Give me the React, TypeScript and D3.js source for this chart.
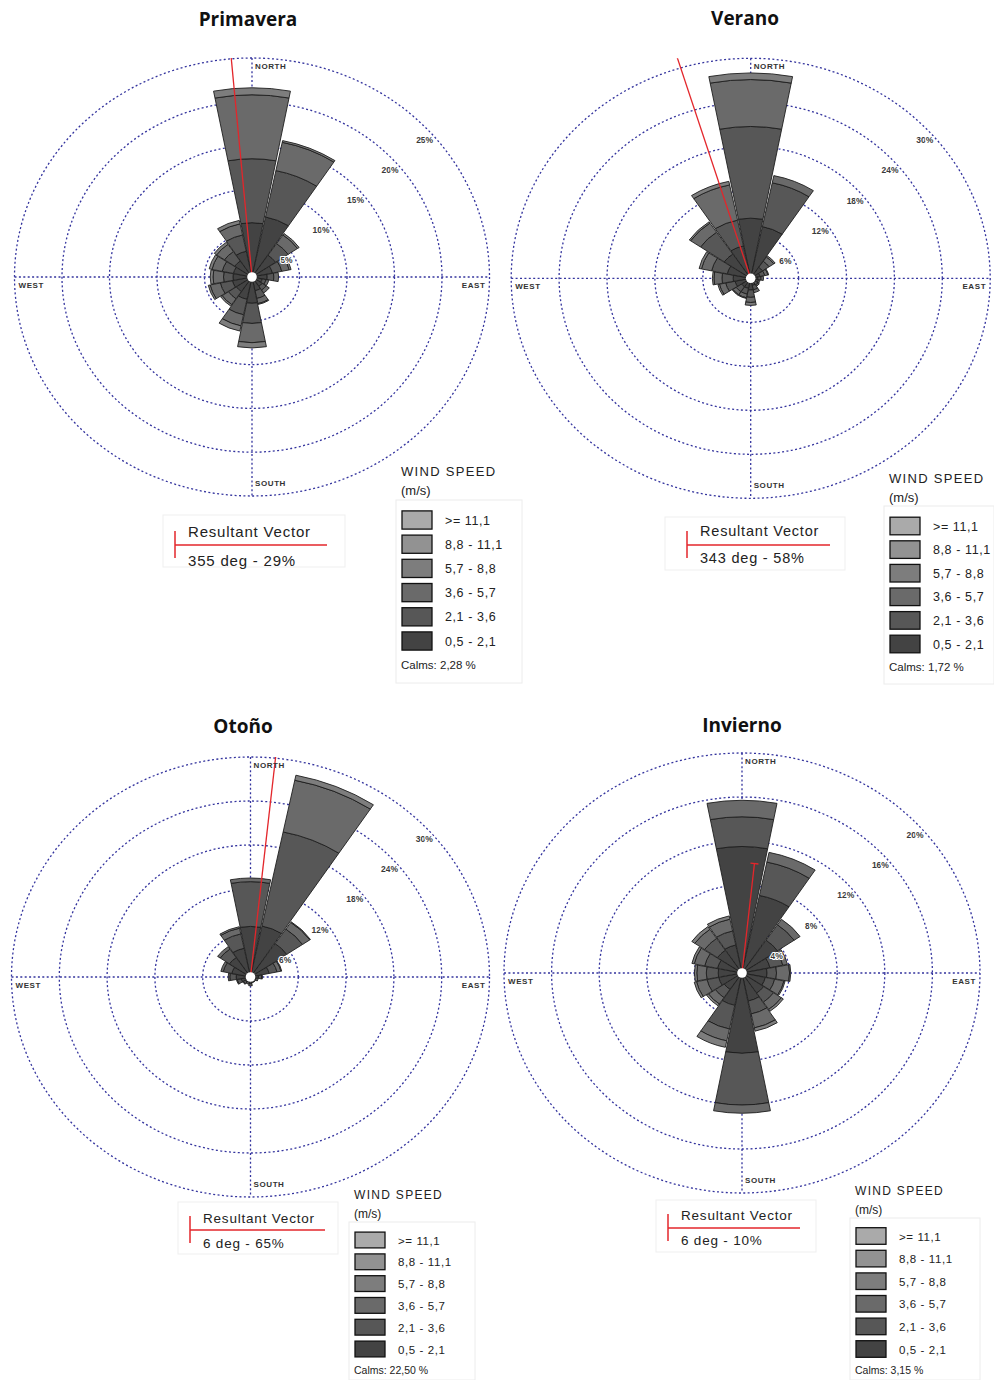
import React from 'react';
import * as d3 from 'd3';

// ---------- DATA ----------
const directions = ['N', 'NNE', 'NE', 'ENE', 'E', 'ESE', 'SE', 'SSE', 'S', 'SSW', 'SW', 'WSW', 'W', 'WNW', 'NW', 'NNW'];
// speed classes, inner (0.5-2.1) to outer (>=11.1)
const speedClasses = ['0,5 - 2,1', '2,1 - 3,6', '3,6 - 5,7', '5,7 - 8,8', '8,8 - 11,1', '>= 11,1'];
const classColors = ['#434343', '#575757', '#6a6a6a', '#7d7d7d', '#929292', '#aaaaaa'];

// frequency (%) per direction, per speed class [0.5-2.1, 2.1-3.6, 3.6-5.7, 5.7-8.8, 8.8-11.1, >=11.1]
const primavera = [
  [6.2, 7.3, 7.3, 0.8, 0, 0],
  [7.0, 5.4, 3.3, 0.2, 0, 0],
  [3.0, 1.6, 1.2, 0.2, 0, 0],
  [2.2, 1.0, 0.8, 0.2, 0, 0],
  [1.6, 0.7, 0.5, 0, 0, 0],
  [1.1, 0.4, 0.3, 0, 0, 0],
  [1.3, 0.5, 0.4, 0, 0, 0],
  [1.6, 0.9, 0.6, 0.1, 0, 0],
  [3.0, 2.3, 2.2, 0.6, 0, 0],
  [2.6, 1.8, 1.3, 0.6, 0, 0],
  [2.0, 1.0, 0.8, 0.2, 0, 0],
  [2.1, 1.3, 1.1, 0.2, 0, 0],
  [2.0, 1.0, 1.1, 0.3, 0, 0],
  [2.0, 1.2, 1.1, 0.3, 0, 0],
  [2.2, 1.3, 1.0, 0.3, 0, 0],
  [3.0, 1.9, 1.3, 0.4, 0, 0],
];
const verano = [
  [8.2, 12.5, 6.4, 0.9, 0, 0],
  [7.2, 6.1, 1.0, 0, 0, 0],
  [1.8, 1.0, 0.7, 0.2, 0, 0],
  [1.2, 0.6, 0.4, 0.1, 0, 0],
  [0.9, 0.4, 0.3, 0, 0, 0],
  [0.7, 0.3, 0.2, 0, 0, 0],
  [0.7, 0.4, 0.2, 0, 0, 0],
  [1.0, 0.6, 0.4, 0, 0, 0],
  [1.6, 1.0, 0.7, 0.4, 0, 0],
  [1.4, 0.8, 0.5, 0.1, 0, 0],
  [1.4, 0.8, 0.5, 0.1, 0, 0],
  [2.0, 1.2, 0.8, 0.2, 0, 0],
  [2.2, 1.4, 1.0, 0.2, 0, 0],
  [3.0, 2.0, 1.3, 0.3, 0, 0],
  [4.0, 3.6, 1.5, 0.2, 0, 0],
  [4.5, 3.6, 4.9, 0.5, 0, 0],
];
const otono = [
  [6.9, 6.1, 0.5, 0, 0, 0],
  [7.1, 13.1, 7.2, 0.7, 0, 0],
  [5.5, 2.4, 1.1, 0.1, 0, 0],
  [2.4, 1.0, 0.5, 0.1, 0, 0],
  [1.0, 0.4, 0.1, 0, 0, 0],
  [0.7, 0.3, 0, 0, 0, 0],
  [0.6, 0.2, 0, 0, 0, 0],
  [0.6, 0.2, 0, 0, 0, 0],
  [0.9, 0.3, 0, 0, 0, 0],
  [0.7, 0.3, 0, 0, 0, 0],
  [0.8, 0.3, 0.1, 0, 0, 0],
  [1.2, 0.5, 0.1, 0, 0, 0],
  [1.8, 0.8, 0.2, 0, 0, 0],
  [2.4, 1.1, 0.3, 0, 0, 0],
  [3.2, 1.4, 0.4, 0, 0, 0],
  [4.0, 2.0, 0.8, 0.2, 0, 0],
];
const invierno = [
  [11.5, 2.7, 1.5, 0, 0, 0],
  [7.2, 3.1, 0.9, 0, 0, 0],
  [3.6, 1.7, 0.6, 0, 0, 0],
  [2.4, 1.1, 0.4, 0, 0, 0],
  [2.1, 0.8, 1.1, 0.1, 0, 0],
  [2.0, 0.8, 0.8, 0.1, 0, 0],
  [2.2, 1.0, 0.8, 0.2, 0, 0],
  [2.6, 1.2, 1.3, 0.3, 0, 0],
  [7.3, 4.7, 0.75, 0, 0, 0],
  [3.0, 2.2, 1.1, 0.6, 0, 0],
  [1.8, 0.9, 0.7, 0.2, 0, 0],
  [2.0, 1.0, 0.9, 0.2, 0, 0],
  [2.0, 1.0, 0.8, 0.2, 0, 0],
  [2.1, 1.1, 0.9, 0.2, 0, 0],
  [2.5, 1.3, 1.0, 0.3, 0, 0],
  [2.6, 1.3, 1.1, 0.3, 0, 0],
];

const seasonTitles = ['Primavera', 'Verano', 'Otoño', 'Invierno'];
const seasonData = [primavera, verano, otono, invierno];
const ringSteps = [5, 6, 6, 4];
const resultantDeg = [355, 343, 6, 6];
const resultantPct = [29, 58, 65, 10];
const calmsText = ['2,28', '1,72', '22,50', '3,15'];

// ---------- LAYOUT ----------
const panels = [
  { title: [248, 26], cx: 252, cy: 277, rx: 47.5, ry: 43.8,
    leg: { x: 402, titleY: 476, first: 520, step: 24.2, calmsY: 669, fs: 13, box: [396, 500, 126, 183] },
    res: { x: 175, y: 545, lineEnd: 327, t1: 537, t2: 566, fs: 15, box: [163, 515, 182, 52] } },
  { title: [745, 25], cx: 750.7, cy: 278.3, rx: 47.9, ry: 44,
    leg: { x: 890, titleY: 483, first: 526, step: 23.6, calmsY: 671, fs: 13, box: [884, 506, 110, 178] },
    res: { x: 687, y: 545, lineEnd: 830, t1: 536, t2: 563, fs: 14.5, box: [665, 517, 180, 53] } },
  { title: [243, 733], cx: 250.5, cy: 977, rx: 47.8, ry: 44,
    leg: { x: 355, titleY: 1199, first: 1240, step: 21.8, calmsY: 1374, fs: 12, box: [349, 1222, 126, 158] },
    res: { x: 190, y: 1230, lineEnd: 325, t1: 1223, t2: 1248, fs: 13.5, box: [178, 1202, 160, 52] } },
  { title: [742, 732], cx: 742, cy: 973, rx: 47.6, ry: 44,
    leg: { x: 856, titleY: 1195, first: 1236, step: 22.6, calmsY: 1374, fs: 12, box: [850, 1218, 130, 162] },
    res: { x: 668, y: 1228, lineEnd: 800, t1: 1220, t2: 1245, fs: 13.5, box: [656, 1200, 160, 52] } },
];

const GRID = '#34349e';
const SANS = 'Arial, "Liberation Sans", sans-serif';

function Rose({ idx }: { idx: number }) {
  const p = panels[idx];
  const data = seasonData[idx];
  const step = ringSteps[idx];
  const maxV = step * 5;
  const R = p.rx * 5;
  const aspect = p.ry / p.rx;
  const Ry = R * aspect;
  const r = d3.scaleLinear().domain([0, maxV]).range([0, R]);
  const ang = d3.scaleLinear().domain([0, directions.length]).range([0, 2 * Math.PI]);
  const half = (10.8 * Math.PI) / 180;
  const arc = d3.arc();
  const ticks = d3.range(1, 6).map((k) => k * step);
  const clipId = `clip-${idx}`;

  const segs: { d: string; color: string }[] = [];
  data.forEach((row, i) => {
    const a = ang(i);
    let cum = 0;
    row.forEach((v, c) => {
      if (v <= 0) return;
      const d = arc({
        innerRadius: r(cum),
        outerRadius: r(cum + v),
        startAngle: a - half,
        endAngle: a + half,
      } as any) as string;
      segs.push({ d, color: classColors[c] });
      cum += v;
    });
  });

  const ra = (resultantDeg[idx] * Math.PI) / 180;
  const rl = r(resultantPct[idx]);
  const ex = Math.sin(ra) * rl;
  const ey = -Math.cos(ra) * rl;
  const capX = Math.cos(ra) * 4;
  const capY = Math.sin(ra) * 4 / aspect;

  const dirStyle = { fontFamily: SANS, fontSize: 8, fontWeight: 700, fill: '#333', letterSpacing: 0.6 } as any;

  return (
    <g>
      {ticks.map((t) => (
        <ellipse key={t} cx={p.cx} cy={p.cy} rx={r(t)} ry={r(t) * aspect} fill="none" stroke={GRID}
          strokeWidth={1.3} strokeDasharray="2 2.4" />
      ))}
      <line x1={p.cx - R} x2={p.cx + R} y1={p.cy} y2={p.cy} stroke={GRID} strokeWidth={1.3} strokeDasharray="2 2.4" />
      <line x1={p.cx} x2={p.cx} y1={p.cy - Ry} y2={p.cy + Ry} stroke={GRID} strokeWidth={1.3} strokeDasharray="2 2.4" />
      <g transform={`translate(${p.cx},${p.cy}) scale(1,${aspect})`}>
        <clipPath id={clipId}>
          <rect x={-R} y={-R} width={2 * R} height={2 * R} />
        </clipPath>
        {segs.map((s, k) => (
          <path key={k} d={s.d} fill={s.color} stroke="#1e1e1e" strokeWidth={0.9}
            vectorEffect="non-scaling-stroke" strokeLinejoin="round" />
        ))}
        <g clipPath={`url(#${clipId})`}>
          <line x1={0} y1={0} x2={ex} y2={ey} stroke="#e3262b" strokeWidth={1.3} vectorEffect="non-scaling-stroke" />
          <line x1={ex - capX} y1={ey - capY} x2={ex + capX} y2={ey + capY} stroke="#e3262b" strokeWidth={1.3}
            vectorEffect="non-scaling-stroke" />
        </g>
      </g>
      <ellipse cx={p.cx} cy={p.cy} rx={4.8} ry={4.8} fill="#fff" />
      {ticks.map((t) => (
        <text key={'l' + t} x={p.cx + 0.727 * r(t)} y={p.cy - 0.687 * r(t) * aspect + 16}
          textAnchor="middle" fontFamily={SANS} fontSize={8.5} fontWeight={700} fill="#3a3a3a"
          stroke="#fff" strokeWidth={2.2} paintOrder="stroke" strokeLinejoin="round">{t}%</text>
      ))}
      <text x={p.cx + 3} y={p.cy - Ry + 11} {...dirStyle}>NORTH</text>
      <text x={p.cx + 3} y={p.cy + Ry - 10} {...dirStyle}>SOUTH</text>
      <text x={p.cx - R + 4} y={p.cy + 11} {...dirStyle}>WEST</text>
      <text x={p.cx + R - 4} y={p.cy + 11} textAnchor="end" {...dirStyle}>EAST</text>
    </g>
  );
}

function Legend({ idx }: { idx: number }) {
  const L = panels[idx].leg;
  const order = d3.range(speedClasses.length).reverse();
  const sh = L.step - 6;
  return (
    <g fontFamily={SANS} fill="#222">
      <rect x={L.box[0]} y={L.box[1]} width={L.box[2]} height={L.box[3]} fill="none" stroke="#ececec" />
      <text x={L.x - 1} y={L.titleY} fontSize={L.fs} letterSpacing={1.3}>WIND SPEED</text>
      <text x={L.x - 1} y={L.titleY + 19} fontSize={L.fs}>(m/s)</text>
      {order.map((c, j) => (
        <g key={c}>
          <rect x={L.x} y={L.first + j * L.step - sh / 2} width={30} height={sh} fill={classColors[c]}
            stroke="#111" strokeWidth={1.3} />
          <text x={L.x + 43} y={L.first + j * L.step + 4.5} fontSize={L.fs - 0.5} letterSpacing={0.6}>
            {speedClasses[c]}
          </text>
        </g>
      ))}
      <text x={L.x - 1} y={L.calmsY} fontSize={L.fs - 1.5}>Calms: {calmsText[idx]} %</text>
    </g>
  );
}

function Resultant({ idx }: { idx: number }) {
  const s = panels[idx].res;
  return (
    <g fontFamily={SANS} fill="#222">
      <rect x={s.box[0]} y={s.box[1]} width={s.box[2]} height={s.box[3]} fill="none" stroke="#efefef" />
      <line x1={s.x} x2={s.lineEnd} y1={s.y} y2={s.y} stroke="#e3262b" strokeWidth={1.5} />
      <line x1={s.x} x2={s.x} y1={s.y - 14} y2={s.y + 13} stroke="#e3262b" strokeWidth={1.5} />
      <text x={s.x + 13} y={s.t1} fontSize={s.fs} letterSpacing={0.8}>Resultant Vector</text>
      <text x={s.x + 13} y={s.t2} fontSize={s.fs} letterSpacing={0.8}>
        {resultantDeg[idx]} deg - {resultantPct[idx]}%
      </text>
    </g>
  );
}

export default function App() {
  return (
    <svg width={994} height={1380} viewBox="0 0 994 1380"
      style={{ position: 'absolute', left: 0, top: 0, display: 'block', background: '#fff' }}>
      <rect width={994} height={1380} fill="#fff" />
      {panels.map((p, i) => (
        <g key={i}>
          <text x={p.title[0]} y={p.title[1]} textAnchor="middle" fontFamily='"Open Sans", sans-serif'
            fontWeight={700} fontSize={19} fill="#111">{seasonTitles[i]}</text>
          <Rose idx={i} />
          <Legend idx={i} />
          <Resultant idx={i} />
        </g>
      ))}
    </svg>
  );
}
